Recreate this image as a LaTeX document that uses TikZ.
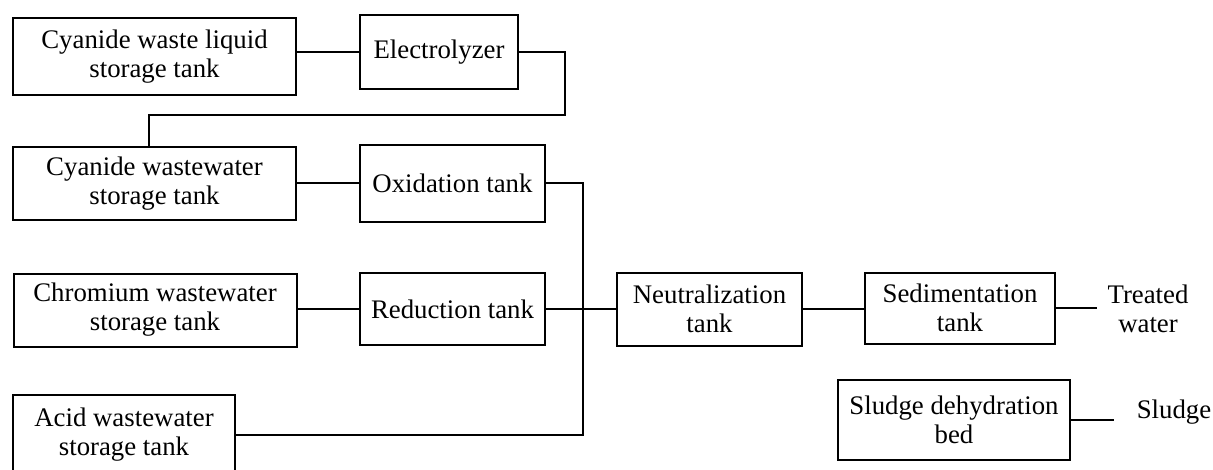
\documentclass[tikz,border=0pt]{standalone}
\usepackage{fontspec}
\setmainfont{Liberation Serif}
\usetikzlibrary{positioning}

\begin{document}
\begin{tikzpicture}[
      x=0.5pt,y=-0.5pt,
      font=\fontsize{13.4}{14.5}\selectfont,
      box/.style={draw,line width=1pt,align=center,inner sep=2pt,minimum height=37pt},
      store/.style={box,minimum width=141.5pt},
      proc/.style={box,minimum width=92.5pt},
      pipe/.style={line width=1pt},
      lbl/.style={align=center,inner sep=0pt}
    ]
    \useasboundingbox (0,0) rectangle (1213,470);

    \node[store,minimum height=38.5pt] (liquid)  at (154.5, 56.5) {Cyanide waste liquid\\storage tank};
    \node[box,minimum width=79pt]      (elec)    at (439.0, 52.5) {Electrolyzer};
    \node[store,minimum height=36.5pt] (cwstore) at (154.5,183.5) {Cyanide wastewater\\storage tank};
    \node[proc,minimum height=38.5pt]  (oxid)    at (452.5,183.5) {Oxidation tank};
    \node[store,minimum height=36.5pt] (chrom)   at (155.0,310.0) {Chromium wastewater\\storage tank};
    \node[proc,minimum height=36pt]    (red)     at (452.5,309.0) {Reduction tank};
    \node[box,minimum width=111pt,minimum height=39.5pt] (acid) at (124.0,434.5) {Acid wastewater\\storage tank};

    \node[proc,minimum height=36.5pt]  (neut)    at (709.5,309.0) {Neutralization\\tank};
    \node[box,minimum width=95pt,minimum height=35.5pt] (sed) at (960.0,308.0) {Sedimentation\\tank};
    \node[box,minimum width=116pt,minimum height=40pt] (sbed) at (954.0,420.0) {Sludge dehydration\\bed};
    \node[lbl] (treated) at (1148,309) {Treated\\water};
    \node[lbl] (sludge)  at (1174,412) {Sludge};

    % electrolyzer outlet loops back to the cyanide wastewater tank
    \coordinate (elbowA) at (565,115);
    \coordinate (elbowB) at (149,115);
    \coordinate (bus)    at (583,0);

    \draw[pipe] (elec.west) -- (elec.west -| liquid.east);
    \draw[pipe] (elec.east) -| (elbowA) -- (elbowB) -- (elbowB |- cwstore.north);
    \draw[pipe] (cwstore) -- (oxid);
    \draw[pipe] (red.west) -- (red.west -| chrom.east);
    \draw[pipe] (oxid.east) -| (bus |- acid.east) -- (acid.east);
    \draw[pipe] (red.east) -- (red.east -| neut.west);
    \draw[pipe] (neut.east) -- (neut.east -| sed.west);
    \draw[pipe,shorten >=5pt]  (sed.east)  -- (sed.east -| treated.west);
    \draw[pipe,shorten >=11pt] (sbed.east) -- (sbed.east -| sludge.west);
  \end{tikzpicture}
\end{document}
